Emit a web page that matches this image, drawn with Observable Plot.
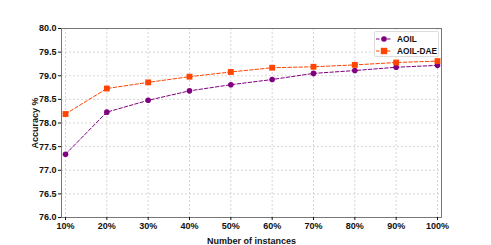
<!DOCTYPE html>
<html><head><meta charset="utf-8">
<script src="https://cdn.jsdelivr.net/npm/d3@7"></script>
<script src="https://cdn.jsdelivr.net/npm/@observablehq/plot@0.6"></script>
<style>
body{margin:0;background:#fff;}
#wrap{position:relative;width:491px;height:245px;font-family:"Liberation Sans",Arial,sans-serif;}
#legend{position:absolute;left:374px;top:31px;width:65px;height:26px;background:#fff;border:1px solid #ddd;border-radius:2px;font-size:8.3px;font-weight:bold;color:#111;box-sizing:border-box;padding-top:1px;}
#legend div{display:flex;align-items:center;height:12px;white-space:nowrap;}
#legend svg{margin:0 5px 0 1px;flex:none;}
</style></head>
<body><div id="wrap"><div id="chart"></div><div id="legend"></div></div>
<script>
const instances = [10, 20, 30, 40, 50, 60, 70, 80, 90, 100];
const aoil = [77.34, 78.23, 78.48, 78.68, 78.81, 78.92, 79.05, 79.11, 79.18, 79.22];
const aoilDae = [78.19, 78.73, 78.86, 78.98, 79.08, 79.17, 79.19, 79.23, 79.28, 79.31];
const yTicks = [76.0, 76.5, 77.0, 77.5, 78.0, 78.5, 79.0, 79.5, 80.0];
const seriesNames = ["AOIL", "AOIL-DAE"];
const colors = ["#800080", "#ff4500"];
const symbols = ["circle", "square"];

const data = [];
instances.forEach((x, i) => {
  data.push({x, y: aoil[i], s: seriesNames[0]});
  data.push({x, y: aoilDae[i], s: seriesNames[1]});
});

const chart = Plot.plot({
  width: 491, height: 245,
  marginLeft: 61, marginRight: 50, marginTop: 28, marginBottom: 28,
  style: {fontFamily: "Liberation Sans, Arial, sans-serif", fontSize: "9px", fontWeight: "bold", color: "#111", background: "#fff"},
  x: {domain: [9.03, 100.97], ticks: instances, tickFormat: d => d + "%", tickSize: 3, label: null},
  y: {domain: [76, 80], ticks: yTicks, tickFormat: d => d.toFixed(1), tickSize: 3, label: null},
  color: {domain: seriesNames, range: colors},
  symbol: {domain: seriesNames, range: symbols},
  marks: [
    Plot.gridX(instances, {stroke: "#bbb", strokeOpacity: 1, strokeWidth: 0.6, strokeDasharray: "2,2"}),
    Plot.gridY(yTicks, {stroke: "#bbb", strokeOpacity: 1, strokeWidth: 0.6, strokeDasharray: "2,2"}),
    Plot.line(data, {x: "x", y: "y", z: "s", stroke: "s", strokeWidth: 1, strokeDasharray: "3.5,2"}),
    Plot.dot(data.filter(d => d.s === "AOIL"), {x: "x", y: "y", fill: "s", symbol: "s", r: 2.8}),
    Plot.dot(data.filter(d => d.s === "AOIL-DAE"), {x: "x", y: "y", fill: "s", symbol: "s", r: 3.3}),
    Plot.frame({stroke: "#777", strokeWidth: 1}),
    Plot.axisX({ticks: instances, tickFormat: d => d + "%", tickSize: 3, tickPadding: 2, label: "Number of instances", labelAnchor: "center", labelArrow: "none", labelOffset: 26, fontSize: 9, fontWeight: "bold"}),
    Plot.axisY({ticks: yTicks, tickFormat: d => d.toFixed(1), tickSize: 3, tickPadding: 2, label: "Accuracy %", labelAnchor: "center", labelArrow: "none", labelOffset: 30, fontSize: 9, fontWeight: "bold"})
  ]
});
document.getElementById("chart").appendChild(chart);

const legend = document.getElementById("legend");
seriesNames.forEach((name, i) => {
  const row = document.createElement("div");
  const marker = symbols[i] === "circle"
    ? `<circle cx="8" cy="4" r="2.8" fill="${colors[i]}"/>`
    : `<rect x="4.8" y="0.8" width="6.4" height="6.4" fill="${colors[i]}"/>`;
  row.innerHTML = `<svg width="16" height="8"><line x1="0" y1="4" x2="16" y2="4" stroke="${colors[i]}" stroke-width="1" stroke-dasharray="3.5,2"/>${marker}</svg><span>${name}</span>`;
  legend.appendChild(row);
});
</script></body></html>
